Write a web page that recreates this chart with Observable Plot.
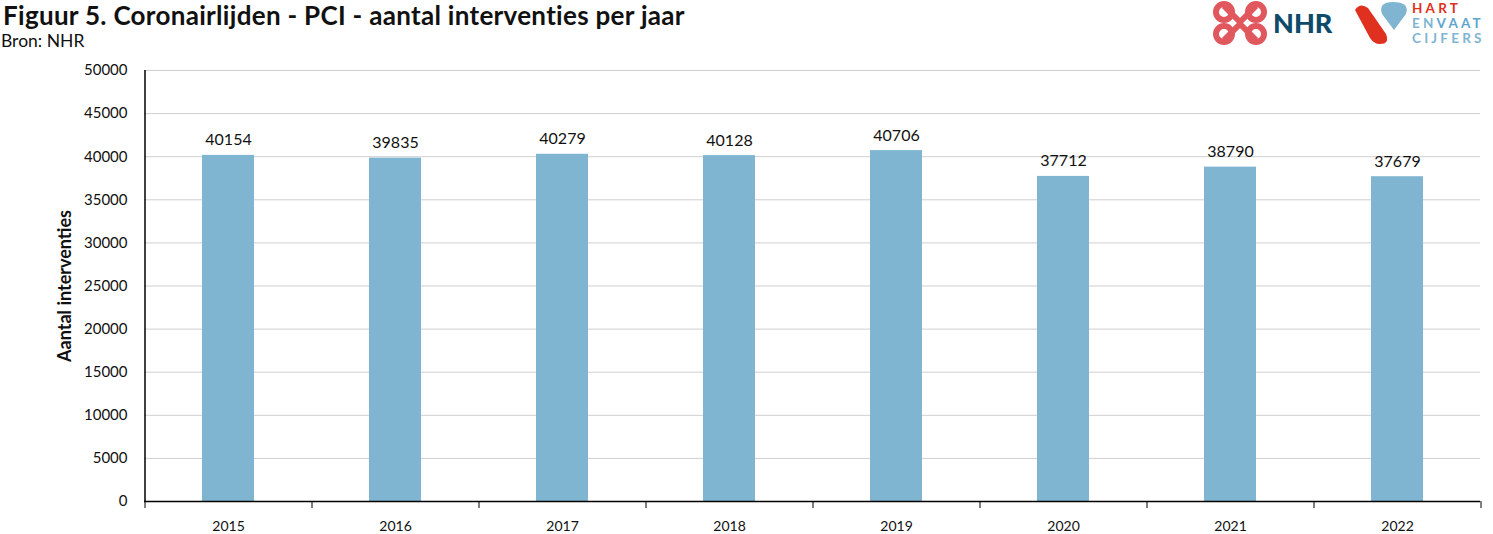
<!DOCTYPE html>
<html>
<head>
<meta charset="utf-8">
<script src="https://cdn.jsdelivr.net/npm/d3@7"></script>
<script src="https://cdn.jsdelivr.net/npm/@observablehq/plot@0.6"></script>
<style>
  html, body { margin: 0; padding: 0; background: #fff; }
  #wrap { position: relative; width: 1493px; height: 534px; overflow: hidden; font-family: Lato, "Open Sans", sans-serif; }
  #title { position: absolute; left: 3px; top: 0px; font-size: 26px; letter-spacing: 0.3px; font-weight: bold; color: #111; white-space: nowrap; line-height: 30px; }
  #sub { position: absolute; left: 1px; top: 31px; font-size: 17.5px; color: #111; line-height: 20px; }
  #logo { position: absolute; left: 1210px; top: 0; }
  #chart { position: absolute; left: 0; top: 50px; }
</style>
</head>
<body>
<div id="wrap">
  <div id="title">Figuur 5. Coronairlijden - PCI - aantal interventies per jaar</div>
  <div id="sub">Bron: NHR</div>
  <svg id="logo" width="283" height="50" viewBox="0 0 283 50">
    <g fill="none" stroke="#e0575e" stroke-width="6" stroke-linejoin="round">
      <path d="M14 6 L30 22 L46 6 M14 40 L30 24 L46 40"/>
      <circle cx="14" cy="12" r="8"/>
      <circle cx="46" cy="12" r="8"/>
      <circle cx="14" cy="34" r="8"/>
      <circle cx="46" cy="34" r="8"/>
    </g>
    <text x="63" y="33" font-family="Lato, sans-serif" font-weight="900" font-size="27" fill="#0e4a6a">NHR</text>
    <path d="M145 10 Q150 2 158 8 L176 34 Q180 44 170 44 Q164 44 160 38 Z" fill="#e03020"/>
    <path d="M183 2 Q200 2 196 14 L184 30 L172 14 Q168 2 183 2 Z" fill="#7fb5d1"/>
    <text x="202" y="13" font-family="Lato, sans-serif" font-weight="bold" font-size="13.5" fill="#e03020" letter-spacing="3.2">HART</text>
    <text x="202" y="28" font-family="Lato, sans-serif" font-weight="bold" font-size="13.5" letter-spacing="3.2"><tspan fill="#7fb5d1">EN</tspan><tspan fill="#5ea5cc">VAAT</tspan></text>
    <text x="202" y="43" font-family="Lato, sans-serif" font-weight="bold" font-size="13.5" fill="#7fb5d1" letter-spacing="3.2">CIJFERS</text>
  </svg>
  <div id="chart"></div>
</div>
<script>
const years = ["2015", "2016", "2017", "2018", "2019", "2020", "2021", "2022"];
const counts = [40154, 39835, 40279, 40128, 40706, 37712, 38790, 37679];
const yTicks = [0, 5000, 10000, 15000, 20000, 25000, 30000, 35000, 40000, 45000, 50000];
const yLabel = "Aantal interventies";

const data = years.map((y, i) => ({year: y, value: counts[i]}));
const W = 1493, H = 484, ML = 144, MR = 13;
const step = (W - ML - MR) / years.length;

const chart = Plot.plot({
  width: W,
  height: H,
  marginTop: 20,
  marginBottom: 33,
  marginLeft: ML,
  marginRight: MR,
  style: {fontFamily: "Lato, 'Open Sans', sans-serif", fontSize: "14px", color: "#111", background: "#fff"},
  x: {domain: years, paddingInner: 0.69, paddingOuter: 0.345, axis: null},
  y: {domain: [0, 50000], axis: null},
  marks: [
    Plot.gridY(yTicks, {stroke: "#cfcfcf", strokeOpacity: 1}),
    Plot.barY(data, {x: "year", y: "value", fill: "#7fb5d1"}),
    Plot.text(data, {x: "year", y: "value", text: d => String(d.value), lineAnchor: "bottom", dy: -10, fontSize: 16, fill: "#111"}),
    Plot.ruleY([0], {stroke: "#000", strokeWidth: 1.5}),
    Plot.ruleX([years[0]], {dx: -step / 2, y1: 0, y2: 50000, stroke: "#000", strokeWidth: 1.5}),
    Plot.axisY(yTicks, {tickSize: 0, tickPadding: 17, tickFormat: d => String(d), fontSize: 15, label: null}),
    Plot.axisX({tickSize: 0, tickPadding: 20, fontSize: 14, label: null}),
    Plot.axisX({tickSize: 7, dx: -step / 2, tickFormat: () => "", label: null, stroke: "#000"}),
    Plot.axisX([years[years.length - 1]], {tickSize: 7, dx: step / 2, tickFormat: () => "", label: null, stroke: "#000"}),
    Plot.text([yLabel], {frameAnchor: "left", rotate: -90, textAnchor: "middle", dx: -79, fontWeight: "bold", fontSize: 18, fill: "#111"})
  ]
});
document.getElementById("chart").appendChild(chart);
</script>
</body>
</html>
